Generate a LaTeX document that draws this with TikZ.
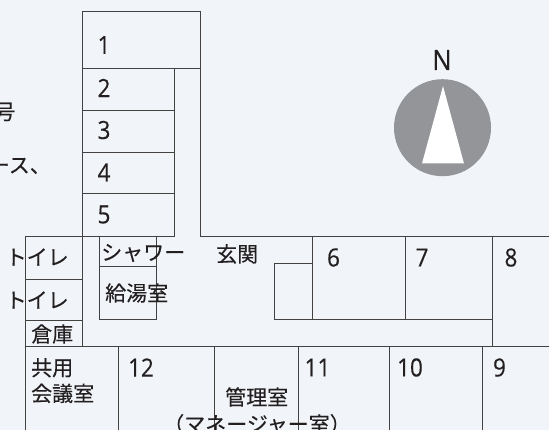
\documentclass[tikz,border=0pt]{standalone}
\usepackage{fontspec}
\setmainfont[FakeBold=0.25]{Noto Sans CJK JP}
\newfontfamily\numfont[FakeStretch=0.9,FakeBold=0.35]{Open Sans}
\definecolor{bgc}{HTML}{F1F5F9}
\definecolor{ink}{HTML}{231F20}
\definecolor{dial}{HTML}{939598}
\tikzset{
  x=1pt,y=-1pt,
  wall/.style={draw=ink!85,line width=0.9pt},
  jp/.style={inner sep=0pt,text=ink,font=\fontsize{21}{25.7}\selectfont,align=left},
  num/.style={inner sep=0pt,text=ink,font=\numfont\fontsize{25}{28}\selectfont}
}
\begin{document}
\begin{tikzpicture}
\fill[bgc] (0,0) rectangle (549,430);
\useasboundingbox (0,0) rectangle (549,430);
% upper wing
\draw[wall] (82,346) -- (82,11.5) -- (200.3,11.5) -- (200.3,236) -- (549,236);
\draw[wall] (82,68) -- (200.3,68);
\draw[wall] (174.5,68) -- (174.5,236);
\draw[wall] (82,110) -- (174.5,110);
\draw[wall] (82,152) -- (174.5,152);
\draw[wall] (82,193.5) -- (174.5,193.5);
\draw[wall] (25,236) -- (174.5,236);
% left rooms
\draw[wall] (25,430) -- (25,236);
\draw[wall] (25,279) -- (82,279);
\draw[wall] (25,320) -- (82,320);
\draw[wall] (25,346.5) -- (549,346.5);
% shower and kitchen
\draw[wall] (99,236) -- (99,319.5) -- (156.5,319.5) -- (156.5,236);
\draw[wall] (99,266.5) -- (156.5,266.5);
% rooms 6, 7, 8
\draw[wall] (312.5,263) -- (274,263) -- (274,319) -- (492.8,319);
\draw[wall] (312.5,236) -- (312.5,319);
\draw[wall] (405,236) -- (405,319);
\draw[wall] (492.8,236) -- (492.8,346.5);
% lower rooms
\draw[wall] (118,346.5) -- (118,430);
\draw[wall] (214.5,346.5) -- (214.5,430);
\draw[wall] (298.5,346.5) -- (298.5,430);
\draw[wall] (389.5,346.5) -- (389.5,430);
\draw[wall] (482.5,346.5) -- (482.5,430);
% compass
\fill[dial] (442.5,127.7) circle[radius=48.5];
\fill[white] (443,86) -- (464,163.5) -- (422,163.5) -- cycle;
\node[num,font=\numfont\fontsize{28}{30}\selectfont] (north) at (442,60) {N};
% numbers
\node[num] (r1) at (104,45) {1};
\node[num] (r2) at (104,88) {2};
\node[num] (r3) at (104,130) {3};
\node[num] (r4) at (104,172.5) {4};
\node[num] (r5) at (104,214.5) {5};
\node[num] (r6) at (333.5,257.5) {6};
\node[num] (r7) at (422,257.5) {7};
\node[num] (r8) at (511,257.5) {8};
\node[num] (r9) at (499.5,367.5) {9};
\node[num] (r10) at (410,367.5) {10};
\node[num] (r11) at (317.5,367.5) {11};
\node[num] (r12) at (141,367.5) {12};
% labels
\node[jp,anchor=east] (t0) at (15.5,112) {号};
\node[jp,anchor=east] (t1) at (51,166) {ース、};
\node[jp,anchor=west] (wc1) at (5.5,257) {トイレ};
\node[jp,anchor=west] (wc2) at (5.5,300) {トイレ};
\node[jp,anchor=west] (store) at (31,334) {倉庫};
\node[jp,anchor=west] (shower) at (101,253) {シャワー};
\node[jp,anchor=west] (kitchen) at (105,293) {給湯室};
\node[jp,anchor=west] (hall) at (216,254) {玄関};
\node[jp,anchor=north west] (meet) at (31,358) {共用\\会議室};
\node[jp,anchor=west] (mgr) at (225,397) {管理室};
\node[jp] (mgr2) at (257,424) {（マネージャー室）};
\end{tikzpicture}
\end{document}
